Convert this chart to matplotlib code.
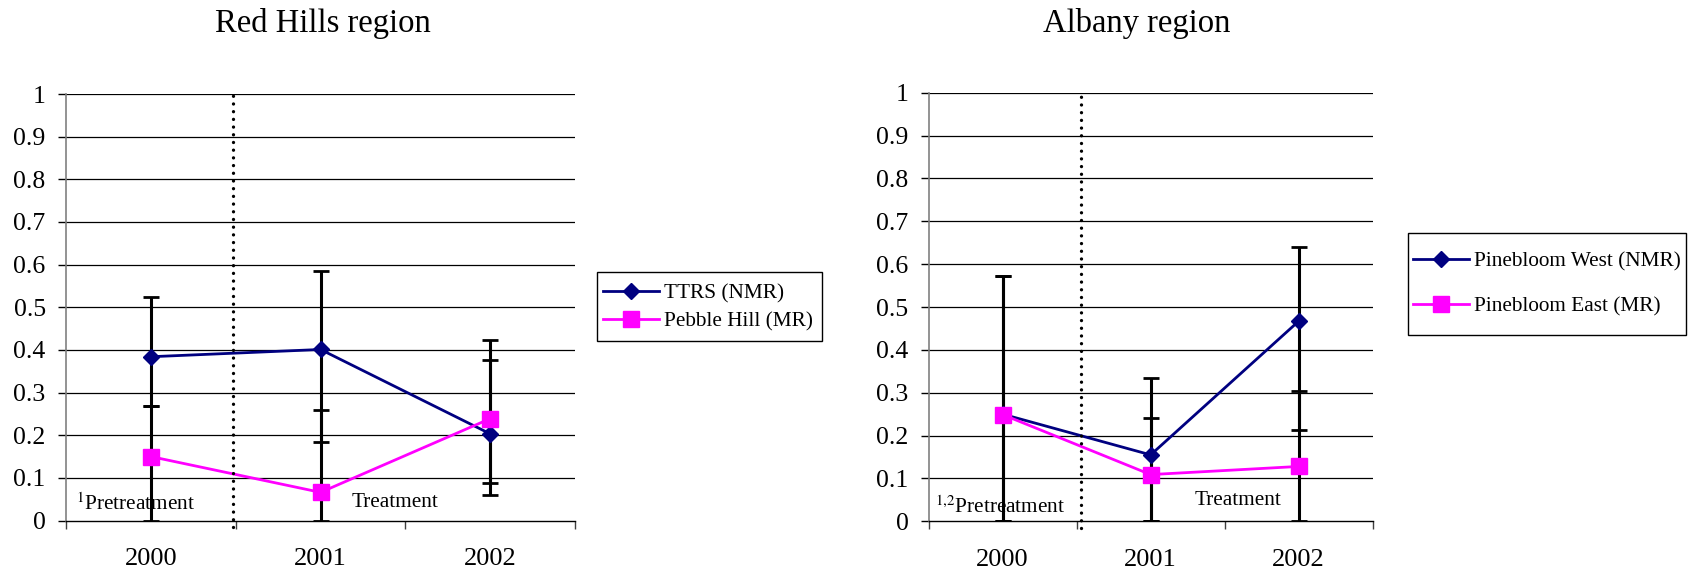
import matplotlib
matplotlib.use("Agg")
import matplotlib.pyplot as plt
from matplotlib.patches import Rectangle

plt.rcParams['font.family'] = ['Liberation Serif', 'DejaVu Serif']
plt.rcParams['mathtext.fontset'] = 'stix'

years = ['2000', '2001', '2002']

# Red Hills region
ttrs = [0.384, 0.401, 0.203]
ttrs_lo = [0.268, 0.183, 0.059]
ttrs_hi = [0.525, 0.585, 0.377]
pebble = [0.150, 0.066, 0.239]
pebble_lo = [0.0, 0.0, 0.089]
pebble_hi = [0.268, 0.260, 0.423]

# Albany region
west = [0.250, 0.155, 0.467]
west_lo = [0.0, 0.0, 0.213]
west_hi = [0.572, 0.334, 0.639]
east = [0.249, 0.109, 0.128]
east_lo = [0.0, 0.0, 0.0]
east_hi = [0.572, 0.242, 0.304]

yticks = [0, 0.1, 0.2, 0.3, 0.4, 0.5, 0.6, 0.7, 0.8, 0.9, 1]
ytick_labels = ['0', '0.1', '0.2', '0.3', '0.4', '0.5', '0.6', '0.7', '0.8', '0.9', '1']

navy = '#000080'
pink = '#FF00FF'

fig = plt.figure(figsize=(16.92, 5.74), dpi=100)
ax1 = fig.add_axes([0.0389, 0.0932, 0.3011, 0.7430])
ax2 = fig.add_axes([0.5488, 0.0918, 0.2625, 0.7467])


def draw_panel(ax, s1, lo1, hi1, lab1, s2, lo2, hi2, lab2, vline_x):
    x = list(range(len(years)))
    for vals, lo, hi in [(s1, lo1, hi1), (s2, lo2, hi2)]:
        err = [[v - l for v, l in zip(vals, lo)], [h - v for v, h in zip(vals, hi)]]
        ax.errorbar(x, vals, yerr=err, fmt='none', ecolor='black', elinewidth=2.2,
                    capsize=6, capthick=2.0, zorder=2)
    ax.plot(x, s1, color=navy, lw=2.0, marker='D', ms=8, mfc=navy, mec=navy,
            label=lab1, zorder=3)
    ax.plot(x, s2, color=pink, lw=2.0, marker='s', ms=11, mfc=pink, mec=pink,
            label=lab2, zorder=3)
    ax.plot([vline_x, vline_x], [-0.015, 1], color='black', lw=2.4,
            linestyle=(0, (0.01, 2.3)), dash_capstyle='round', clip_on=False, zorder=4)

    ax.set_xlim(-0.5, 2.5)
    ax.set_ylim(0, 1)
    ax.set_yticks(yticks)
    ax.set_yticklabels(ytick_labels)
    ax.set_xticks(x)
    ax.set_xticklabels(years)
    ax.set_xticks([-0.5, 0.5, 1.5, 2.5], minor=True)
    ax.tick_params(axis='x', which='major', length=0, pad=20, labelsize=19)
    ax.tick_params(axis='x', which='minor', length=6, width=1, color='#404040')
    ax.tick_params(axis='y', length=5.5, width=1, pad=9, labelsize=18.5)
    for y in yticks[1:]:
        ax.axhline(y, color='black', lw=0.9, zorder=1)
    for s in ['top', 'right']:
        ax.spines[s].set_visible(False)
    ax.spines['left'].set_color('#808080')
    ax.spines['left'].set_linewidth(1.2)
    ax.spines['bottom'].set_color('black')
    ax.spines['bottom'].set_linewidth(1)


draw_panel(ax1, ttrs, ttrs_lo, ttrs_hi, 'TTRS (NMR)',
           pebble, pebble_lo, pebble_hi, 'Pebble Hill (MR)', 0.487)
draw_panel(ax2, west, west_lo, west_hi, 'Pinebloom West (NMR)',
           east, east_lo, east_hi, 'Pinebloom East (MR)', 0.532)

ax1.text(-0.441, 0.025, r'$^{1}$Pretreatment', fontsize=15.3, va='baseline')
ax1.text(1.181, 0.032, 'Treatment', fontsize=15.3, va='baseline')
ax2.text(-0.457, 0.019, r'$^{1{,}2}$Pretreatment', fontsize=15.3, va='baseline')
ax2.text(1.297, 0.038, 'Treatment', fontsize=15.3, va='baseline')

fig.text(0.1908, 0.9437, 'Red Hills region', fontsize=23.5, ha='center', va='baseline')
fig.text(0.6718, 0.9437, 'Albany region', fontsize=23.5, ha='center', va='baseline')

# legends
h1, l1 = ax1.get_legend_handles_labels()
fig.legend(h1, l1, loc='center left', bbox_to_anchor=(0.3566, 0.4643), frameon=False,
           fontsize=15.3, borderpad=0, borderaxespad=0, handlelength=2.6,
           handletextpad=0.25, labelspacing=0.38)
fig.patches.append(Rectangle((0.3527, 0.4064), 0.1333, 0.1192, transform=fig.transFigure,
                             fill=False, edgecolor='black', lw=1))
h2, l2 = ax2.get_legend_handles_labels()
fig.legend(h2, l2, loc='center left', bbox_to_anchor=(0.8353, 0.5056), frameon=False,
           fontsize=15.3, borderpad=0, borderaxespad=0, handlelength=2.6,
           handletextpad=0.25, labelspacing=1.2)
fig.patches.append(Rectangle((0.8323, 0.4164), 0.1641, 0.1782, transform=fig.transFigure,
                             fill=False, edgecolor='black', lw=1))

fig.savefig('out.png', dpi=100)
